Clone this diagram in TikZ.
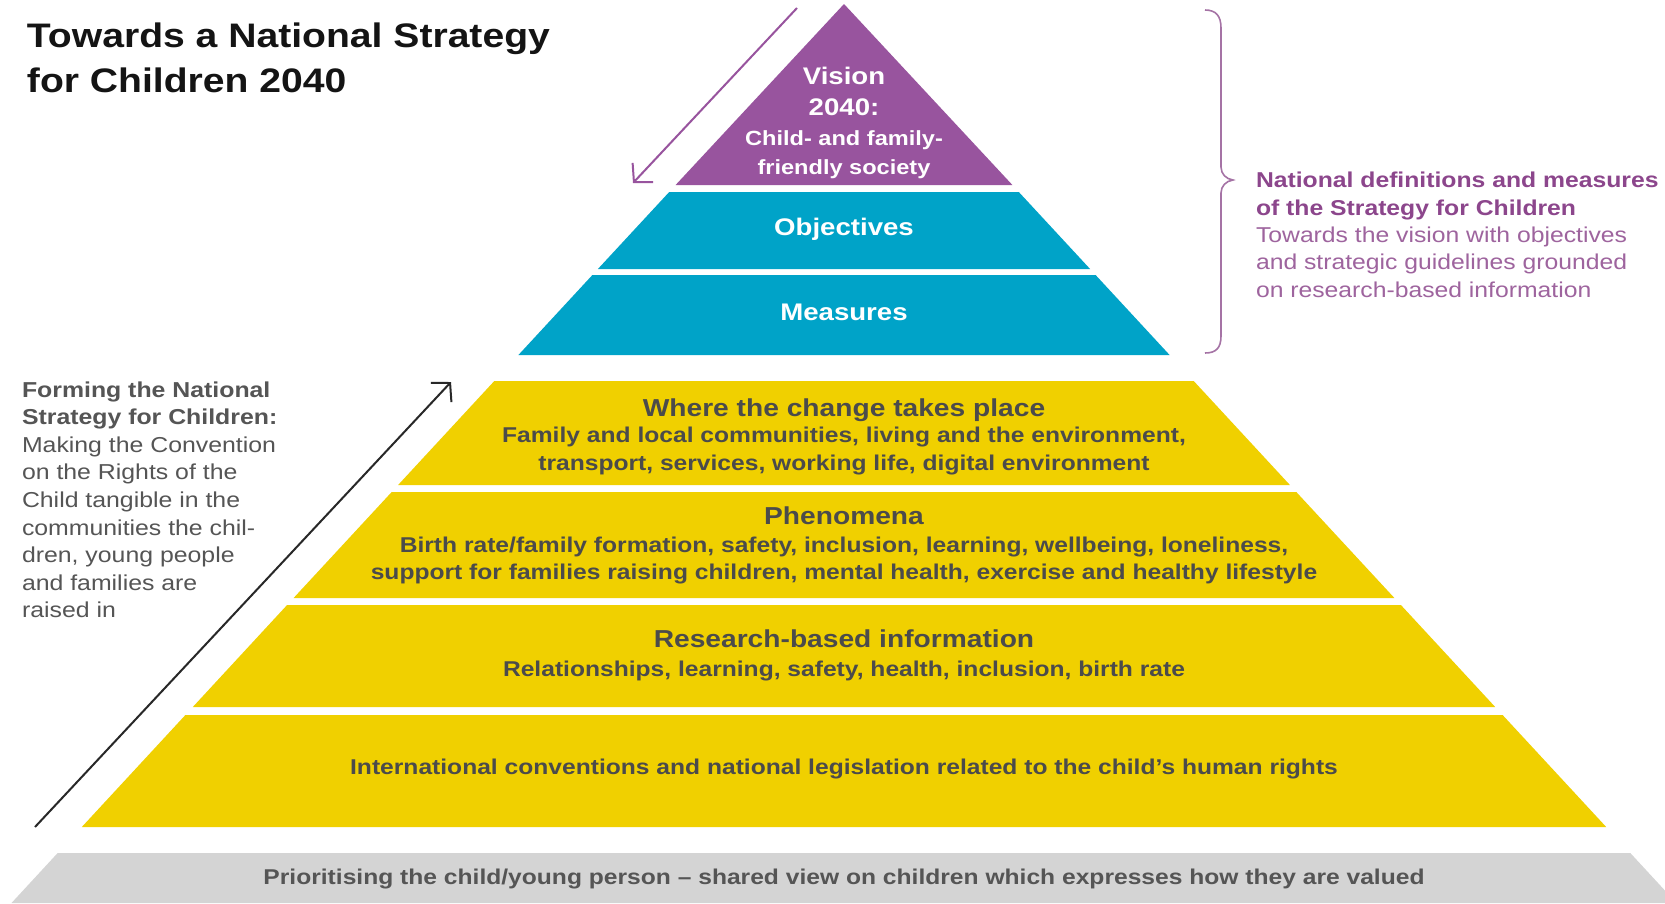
\documentclass[tikz,border=0pt]{standalone}
\usepackage{fontspec}
\setmainfont{Liberation Sans}[FakeStretch=1.15]
\usetikzlibrary{arrows.meta}
\definecolor{yel}{RGB}{240,208,0}
\definecolor{tealband}{RGB}{0,163,200}
\definecolor{purp}{RGB}{152,84,158}
\definecolor{purtxt}{RGB}{140,70,140}
\definecolor{purbody}{RGB}{158,100,158}
\definecolor{brk}{RGB}{165,115,165}
\definecolor{ytxt}{RGB}{75,75,75}
\definecolor{gband}{RGB}{212,212,212}
\definecolor{gtxt}{RGB}{85,85,85}
\definecolor{ltxt}{RGB}{85,85,85}
\definecolor{ttxt}{RGB}{20,20,20}
\newcommand\fsz[1]{\fontsize{#1}{#1}\selectfont}
\begin{document}
\begin{tikzpicture}[x=1pt,y=-1pt,
  every node/.style={inner sep=0pt, outer sep=0pt},
  titletxt/.style={anchor=base west, text=ttxt, font=\bfseries\fsz{34}},
  lefthead/.style={anchor=base west, text=ltxt, font=\bfseries\fsz{21.6}},
  leftbody/.style={anchor=base west, text=ltxt, font=\fsz{21.6}},
  righthead/.style={anchor=base west, text=purtxt, font=\bfseries\fsz{21.5}},
  rightbody/.style={anchor=base west, text=purbody, font=\fsz{21.5}},
  whitebig/.style={anchor=base, text=white, font=\bfseries\fsz{24}},
  whitesmall/.style={anchor=base, text=white, font=\bfseries\fsz{20.5}},
  yhead/.style={anchor=base, text=ytxt, font=\bfseries\fsz{24.5}},
  ybody/.style={anchor=base, text=ytxt, font=\bfseries\fsz{21.4}},
  gbody/.style={anchor=base, text=gtxt, font=\bfseries\fsz{21.4}},
  chevron/.style={-{Straight Barb[length=13pt,width=28pt]}, line width=2pt}
]
\useasboundingbox (0,0) rectangle (1665,903);
\fill[white] (0,0) rectangle (1665,903);

% ---- upper pyramid ----
\fill[purp] (844,4) -- (1012.4,185) -- (675.6,185) -- cycle;
\fill[tealband] (669.2,192) -- (1018.8,192) -- (1090.1,269) -- (597.9,269) -- cycle;
\fill[tealband] (592.4,275) -- (1095.6,275) -- (1169.6,355) -- (518.4,355) -- cycle;

% ---- lower pyramid ----
\fill[yel] (494.3,381) -- (1193.7,381) -- (1289.9,485) -- (398.1,485) -- cycle;
\fill[yel] (391.7,492) -- (1296.3,492) -- (1394.4,598) -- (293.6,598) -- cycle;
\fill[yel] (287.1,605) -- (1400.9,605) -- (1495.2,707) -- (192.8,707) -- cycle;
\fill[yel] (185.4,715) -- (1502.6,715) -- (1606.2,827) -- (81.8,827) -- cycle;
\fill[gband] (57.7,853) -- (1630.3,853) -- (1665,890.6) -- (1665,903) -- (11.5,903) -- cycle;

% ---- title ----
\node[titletxt] (t1) at (27,47) {Towards a National Strategy};
\node[titletxt] (t2) at (27,92) {for Children 2040};

% ---- vision ----
\node[whitebig] (v1) at (844,84) {Vision};
\node[whitebig] (v2) at (844,115) {2040:};
\node[whitesmall] (v3) at (844,145.5) {Child- and family-};
\node[whitesmall] (v4) at (844,174.5) {friendly society};
\node[whitebig] (obj) at (844,235) {Objectives};
\node[whitebig] (mea) at (844,320) {Measures};

% ---- yellow texts ----
\node[yhead] (w1) at (844,416) {Where the change takes place};
\node[ybody] (w2) at (844,442) {Family and local communities, living and the environment,};
\node[ybody] (w3) at (844,470) {transport, services, working life, digital environment};
\node[yhead] (p1) at (844,524) {Phenomena};
\node[ybody] (p2) at (844,552) {Birth rate/family formation, safety, inclusion, learning, wellbeing, loneliness,};
\node[ybody] (p3) at (844,579) {support for families raising children, mental health, exercise and healthy lifestyle};
\node[yhead] (r1) at (844,647) {Research-based information};
\node[ybody] (r2) at (844,676) {Relationships, learning, safety, health, inclusion, birth rate};
\node[ybody] (i1) at (844,774) {International conventions and national legislation related to the child's human rights};
\node[gbody] (g1) at (844,884) {Prioritising the child/young person -- shared view on children which expresses how they are valued};

% ---- left text ----
\node[lefthead] (l1) at (22,397) {Forming the National};
\node[lefthead] (l2) at (22,424.6) {Strategy for Children:};
\node[leftbody] (l3) at (22,452.2) {Making the Convention};
\node[leftbody] (l4) at (22,479.8) {on the Rights of the};
\node[leftbody] (l5) at (22,507.4) {Child tangible in the};
\node[leftbody] (l6) at (22,535) {communities the chil-};
\node[leftbody] (l7) at (22,562.6) {dren, young people};
\node[leftbody] (l8) at (22,590.2) {and families are};
\node[leftbody] (l9) at (22,617.8) {raised in};

% ---- right text ----
\node[righthead] (n1) at (1256,187.5) {National definitions and measures};
\node[righthead] (n2) at (1256,215) {of the Strategy for Children};
\node[rightbody] (n3) at (1256,242) {Towards the vision with objectives};
\node[rightbody] (n4) at (1256,269) {and strategic guidelines grounded};
\node[rightbody] (n5) at (1256,297) {on research-based information};

% ---- brace ----
\draw[brk, line width=1.6pt]
  (1205,10) .. controls (1216,10) and (1221,16) .. (1221,28)
  -- (1221,167) .. controls (1221,174) and (1226,179) .. (1233,180)
  .. controls (1226,181) and (1221,186) .. (1221,193)
  -- (1221,336) .. controls (1221,348) and (1216,353) .. (1205,353);

% ---- arrows ----
\coordinate (pa) at (797,8);
\coordinate (pb) at (633,183);
\draw[chevron, draw=purp] (pa) -- (pb);
\coordinate (ba) at (35,827);
\coordinate (bb) at (451,382);
\draw[chevron, draw={rgb,255:red,40;green,40;blue,40}] (ba) -- (bb);
\end{tikzpicture}
\end{document}
